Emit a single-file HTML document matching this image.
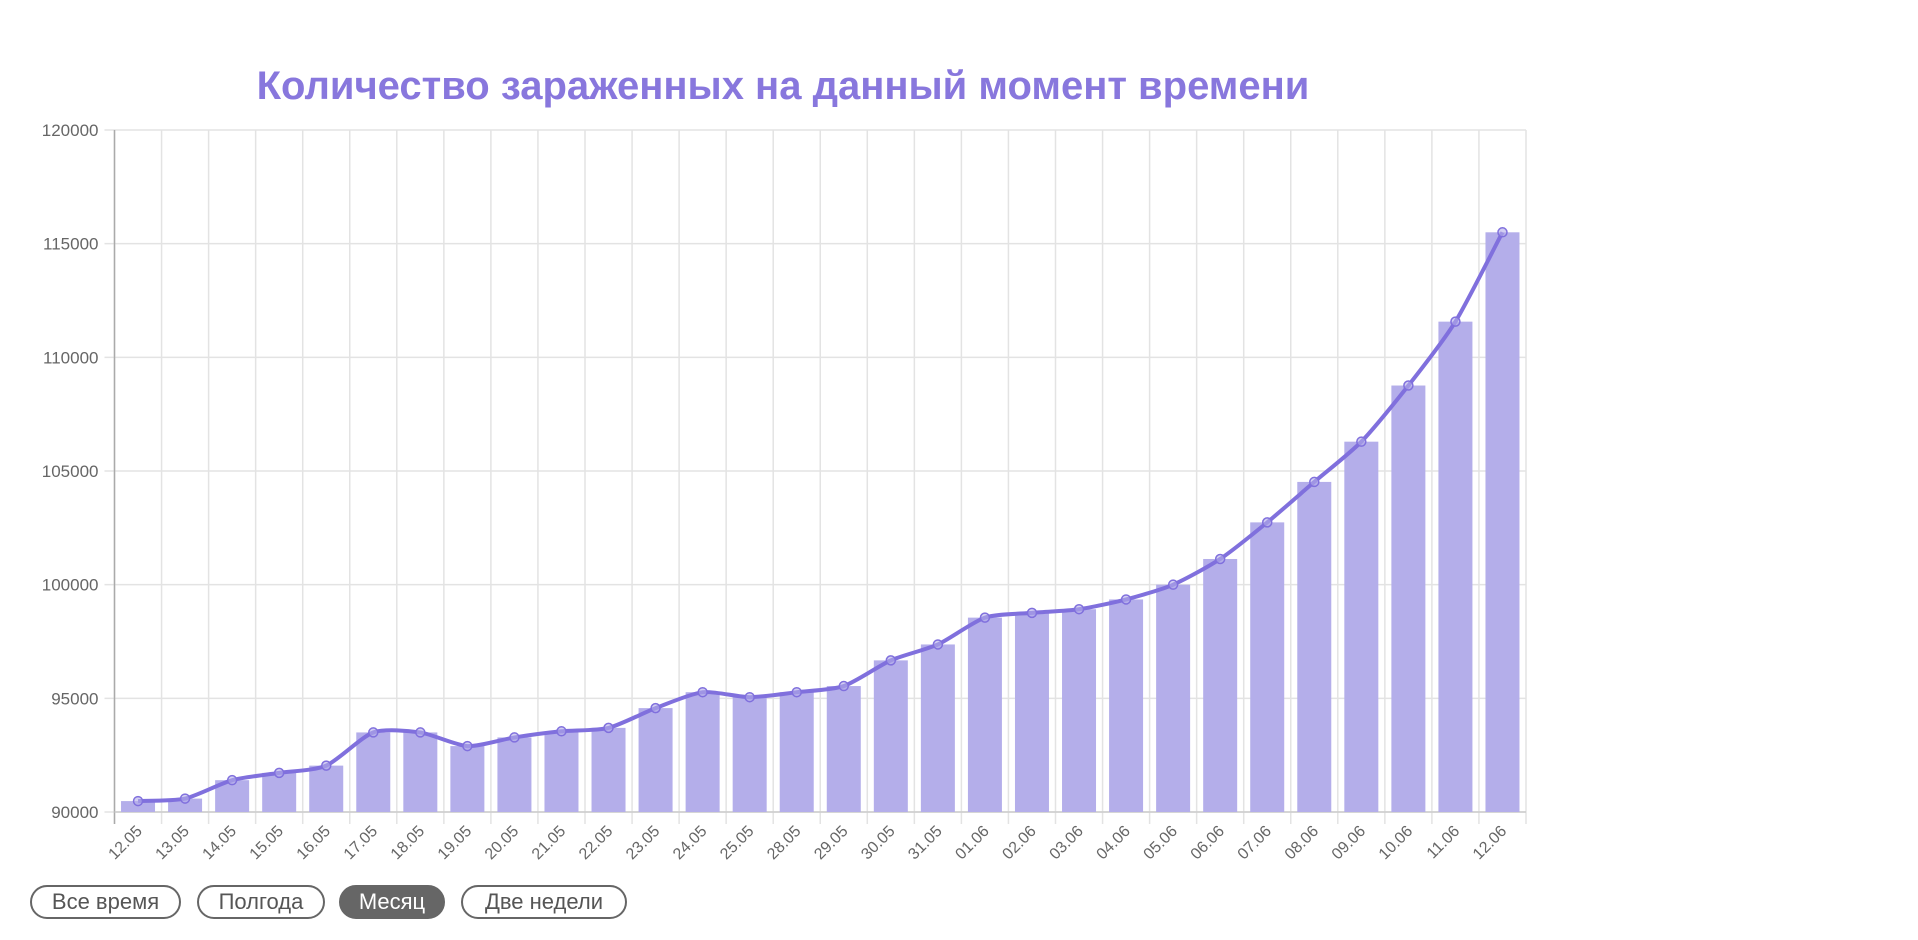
<!DOCTYPE html>
<html><head><meta charset="utf-8"><style>
html,body{margin:0;padding:0;background:#fff;width:1918px;height:940px;overflow:hidden;font-family:"Liberation Sans",sans-serif}
.btn{position:absolute;top:885px;height:34px;border:2px solid #666;border-radius:18px;box-sizing:border-box;font-size:22px;color:#555;line-height:30px;text-align:center}
</style></head><body>
<svg id="c" width="1918" height="940" style="position:absolute;left:0;top:0"></svg>
<div class="btn" style="left:30px;width:151px">Все время</div>
<div class="btn" style="left:197px;width:128px">Полгода</div>
<div class="btn" style="left:339px;width:106px;background:#666;color:#fff;border-color:#666">Месяц</div>
<div class="btn" style="left:461px;width:166px">Две недели</div>
<script>
var L=["12.05","13.05","14.05","15.05","16.05","17.05","18.05","19.05","20.05","21.05","22.05","23.05","24.05","25.05","28.05","29.05","30.05","31.05","01.06","02.06","03.06","04.06","05.06","06.06","07.06","08.06","09.06","10.06","11.06","12.06"];
var V=[90480,90590,91400,91720,92040,93500,93500,92900,93280,93550,93700,94570,95270,95050,95270,95540,96670,97370,98550,98760,98920,99350,100000,101130,102740,104520,106290,108760,111570,115500];
var x0=114.5,x1=1526,yT=130,yB=812,n=30,w=(x1-x0)/n;
function Y(v){return yB-(v-90000)/30000*(yB-yT);}
var s='';
s+='<text x="783" y="99" text-anchor="middle" font-size="40" font-weight="bold" fill="#8877dd" font-family="Liberation Sans,sans-serif">Количество зараженных на данный момент времени</text>';
for(var i=0;i<=n;i++){var x=x0+i*w;s+='<line x1="'+x+'" y1="'+yT+'" x2="'+x+'" y2="'+(yB+12)+'" stroke="#e3e3e3" stroke-width="1.5"/>';}
for(var k=0;k<=6;k++){var y=Y(90000+k*5000);s+='<line x1="'+(x0-10)+'" y1="'+y+'" x2="'+x1+'" y2="'+y+'" stroke="#e3e3e3" stroke-width="1.5"/>';
s+='<text x="'+(x0-16)+'" y="'+(y+6)+'" text-anchor="end" font-size="17" fill="#666">'+(90000+k*5000)+'</text>';}
s+='<line x1="'+x0+'" y1="'+yT+'" x2="'+x0+'" y2="'+(yB+12)+'" stroke="#aaa" stroke-width="1.5"/>';
s+='<line x1="'+x0+'" y1="'+yB+'" x2="'+x1+'" y2="'+yB+'" stroke="#ccc" stroke-width="1.5"/>';
var P=[];
for(var i=0;i<n;i++){var cx=x0+(i+.5)*w,y=Y(V[i]);P.push([cx,y]);
s+='<rect x="'+(cx-17)+'" y="'+y+'" width="34" height="'+(yB-y)+'" fill="#b4aeea"/>';
s+='<text transform="translate('+(cx+5)+','+(yB+20)+') rotate(-45)" text-anchor="end" font-size="16" fill="#666">'+L[i]+'</text>';}
var d='M'+P[0][0]+','+P[0][1];
for(var i=0;i<n-1;i++){var p0=P[Math.max(i-1,0)],p1=P[i],p2=P[i+1],p3=P[Math.min(i+2,n-1)],t=0.12;
d+=' C'+(p1[0]+(p2[0]-p0[0])*t)+','+(p1[1]+(p2[1]-p0[1])*t)+' '+(p2[0]-(p3[0]-p1[0])*t)+','+(p2[1]-(p3[1]-p1[1])*t)+' '+p2[0]+','+p2[1];}
s+='<path d="'+d+'" fill="none" stroke="#8070dd" stroke-width="4"/>';
for(var i=0;i<n;i++)s+='<circle cx="'+P[i][0]+'" cy="'+P[i][1]+'" r="4.5" fill="rgba(180,174,234,0.6)" stroke="#8070dd" stroke-width="1.5"/>';
document.getElementById('c').innerHTML=s;
</script>
</body></html>
